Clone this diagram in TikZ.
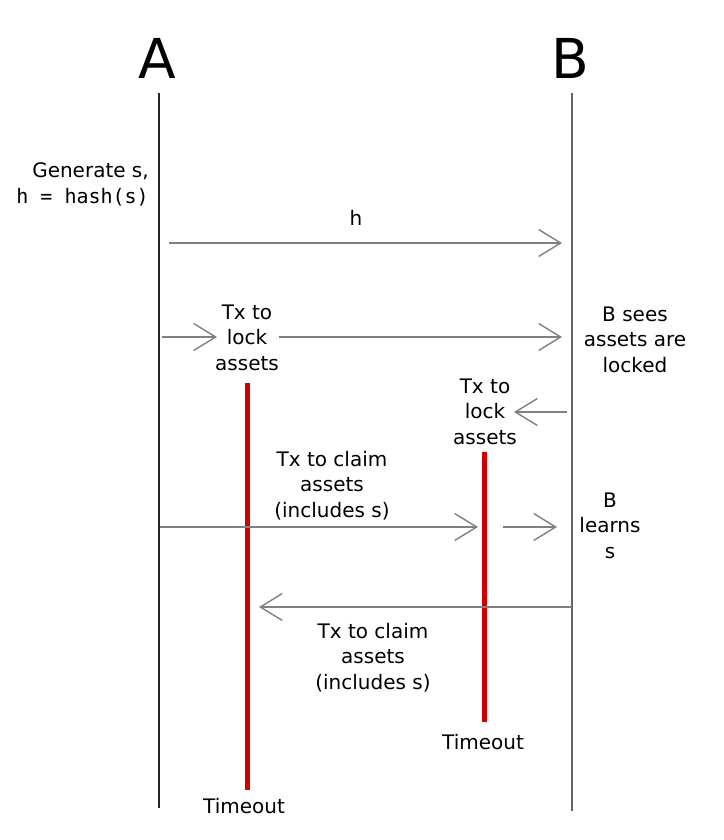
\documentclass[tikz,border=0pt]{standalone}
\usepackage{fontspec}
\setmainfont{DejaVu Sans}
\setmonofont{DejaVu Sans Mono}
\usetikzlibrary{arrows.meta}
\tikzset{
	lifeline/.style={line width=1.5pt},
	msg/.style={draw=black!50, line width=1.4pt, -{Straight Barb[length=22pt,width=27pt]}},
	timer/.style={draw=red!82!black, line width=5pt},
	lbl/.style={align=center, anchor=base, inner sep=0pt, font=\fontsize{20}{25.5}\selectfont},
	party/.style={anchor=base, inner sep=0pt, font=\fontsize{55}{60}\selectfont},
}

\begin{document}
\begin{tikzpicture}[x=1pt, y=-1pt]
		%%%%% START %%%%%
		\useasboundingbox (0, 0) rectangle (723, 840);
		
		\node[party] (A) at (157, 79) {A};
		\node[party] (B) at (570, 79) {B};
		\draw[lifeline, color=black!85] (159, 93) -- (159, 808);
		\draw[lifeline, color=black!60] (572, 93) -- (572, 811);
		
		\node[lbl, align=right, anchor=base east] (gen) at (149, 203) {Generate s,\\\texttt{h = hash(s)}};
		
		% h to B
		\node[lbl] (h) at (356, 225) {h};
		\coordinate (hA) at (169, 243);
		\coordinate (hB) at (562, 243);
		\draw[msg] (hA) -- (hB);
		
		% timeouts
		\draw[timer] (247, 383) -- (247, 790);
		\draw[timer] (484, 452) -- (484, 722);
		\node[lbl] (toA) at (244, 813) {Timeout};
		\node[lbl] (toB) at (483, 749) {Timeout};
		
		% A locks
		\node[lbl] (lockA) at (247, 370) {Tx to\\lock\\assets};
		\coordinate (lockA0) at (162, 337);
		\coordinate (lockA1) at (217, 337);
		\coordinate (lockA2) at (279, 337);
		\coordinate (lockA3) at (562, 337);
		\draw[msg] (lockA0) -- (lockA1);
		\draw[msg] (lockA2) -- (lockA3);
		\node[lbl] (sees) at (635, 372) {B sees\\assets are\\locked};
		
		% B locks
		\node[lbl] (lockB) at (485, 444) {Tx to\\lock\\assets};
		\coordinate (lockB0) at (567, 412);
		\coordinate (lockB1) at (514, 412);
		\draw[msg] (lockB0) -- (lockB1);
		
		% A claims
		\node[lbl] (claimA) at (332, 517) {Tx to claim\\assets\\(includes s)};
		\coordinate (claimA0) at (160, 527);
		\coordinate (claimA1) at (478, 527);
		\coordinate (claimA2) at (503, 527);
		\coordinate (claimA3) at (557, 527);
		\draw[msg] (claimA0) -- (claimA1);
		\draw[msg] (claimA2) -- (claimA3);
		\node[lbl] (learns) at (610, 558) {B\\learns\\s};
		
		% B claims
		\coordinate (claimB0) at (572, 607);
		\coordinate (claimB1) at (259, 607);
		\draw[msg] (claimB0) -- (claimB1);
		\node[lbl] (claimB) at (373, 689) {Tx to claim\\assets\\(includes s)};
		
		%%%%% END %%%%%
	\end{tikzpicture}
\end{document}
